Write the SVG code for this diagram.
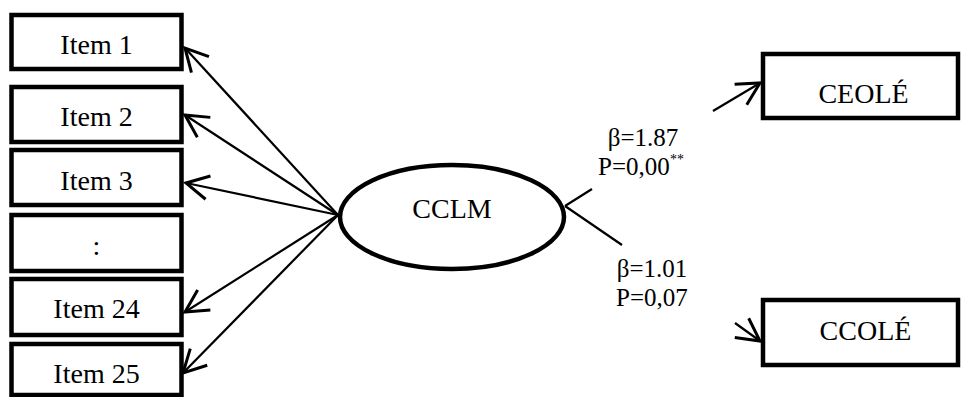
<svg xmlns="http://www.w3.org/2000/svg" width="964" height="397" viewBox="0 0 964 397">
<style>
.box{fill:#fff;stroke:#000;stroke-width:4.5}
.t{font-family:"Liberation Serif","Times New Roman",serif;font-size:28px;fill:#000;text-anchor:middle}
.l{font-family:"Liberation Serif","Times New Roman",serif;font-size:25px;fill:#000;text-anchor:middle}
.c{fill:none;stroke:#000;stroke-width:2.2}
</style>
<defs>
<marker id="ah" markerUnits="userSpaceOnUse" markerWidth="30" markerHeight="30" viewBox="-20 -12 24 24" refX="0" refY="0" orient="auto">
<path d="M-18,-9.5 L0,0 L-18,9.5" fill="none" stroke="#000" stroke-width="2.4"/>
</marker>
</defs>
<g id="connectors">
<line class="c" x1="338" y1="215" x2="185" y2="48" marker-end="url(#ah)"/>
<line class="c" x1="338" y1="215" x2="185" y2="115" marker-end="url(#ah)"/>
<line class="c" x1="338" y1="215" x2="186" y2="183" marker-end="url(#ah)"/>
<line class="c" x1="338" y1="215" x2="185" y2="312" marker-end="url(#ah)"/>
<line class="c" x1="338" y1="215" x2="183" y2="373" marker-end="url(#ah)"/>
<path class="c" d="M565,206 L592,189 M713,111 L760,83" marker-end="url(#ah)"/>
<path class="c" d="M565,206 L622,245 M735,323 L760,341" marker-end="url(#ah)"/>
</g>
<g id="item1"><rect class="box" x="11.5" y="15" width="170" height="54"/><text class="t" x="96.5" y="54">Item 1</text></g>
<g id="item2"><rect class="box" x="11.5" y="87" width="170" height="55"/><text class="t" x="96.5" y="126">Item 2</text></g>
<g id="item3"><rect class="box" x="11.5" y="150" width="170" height="55"/><text class="t" x="96.5" y="190">Item 3</text></g>
<g id="itemdots"><rect class="box" x="11.5" y="215" width="170" height="56"/><text class="t" x="96.5" y="255">:</text></g>
<g id="item24"><rect class="box" x="11.5" y="279" width="170" height="56"/><text class="t" x="96.5" y="318">Item 24</text></g>
<g id="item25"><rect class="box" x="11.5" y="344" width="170" height="51"/><text class="t" x="96.5" y="383">Item 25</text></g>
<g id="cclm"><ellipse cx="452" cy="217" rx="112" ry="52" fill="#fff" stroke="#000" stroke-width="4.5"/><text class="t" x="452" y="218">CCLM</text></g>
<g id="ceole"><rect class="box" x="763" y="54" width="195" height="64"/><text class="t" x="863.5" y="103">CEOLÉ</text></g>
<g id="ccole"><rect class="box" x="763" y="300" width="195" height="65"/><text class="t" x="865.5" y="340">CCOLÉ</text></g>
<g id="label1"><text class="l" x="643" y="146">β=1.87</text><text class="l" x="641" y="175">P=0,00<tspan font-size="14" dy="-11">**</tspan></text></g>
<g id="label2"><text class="l" x="652" y="277">β=1.01</text><text class="l" x="652" y="306">P=0,07</text></g>
</svg>
